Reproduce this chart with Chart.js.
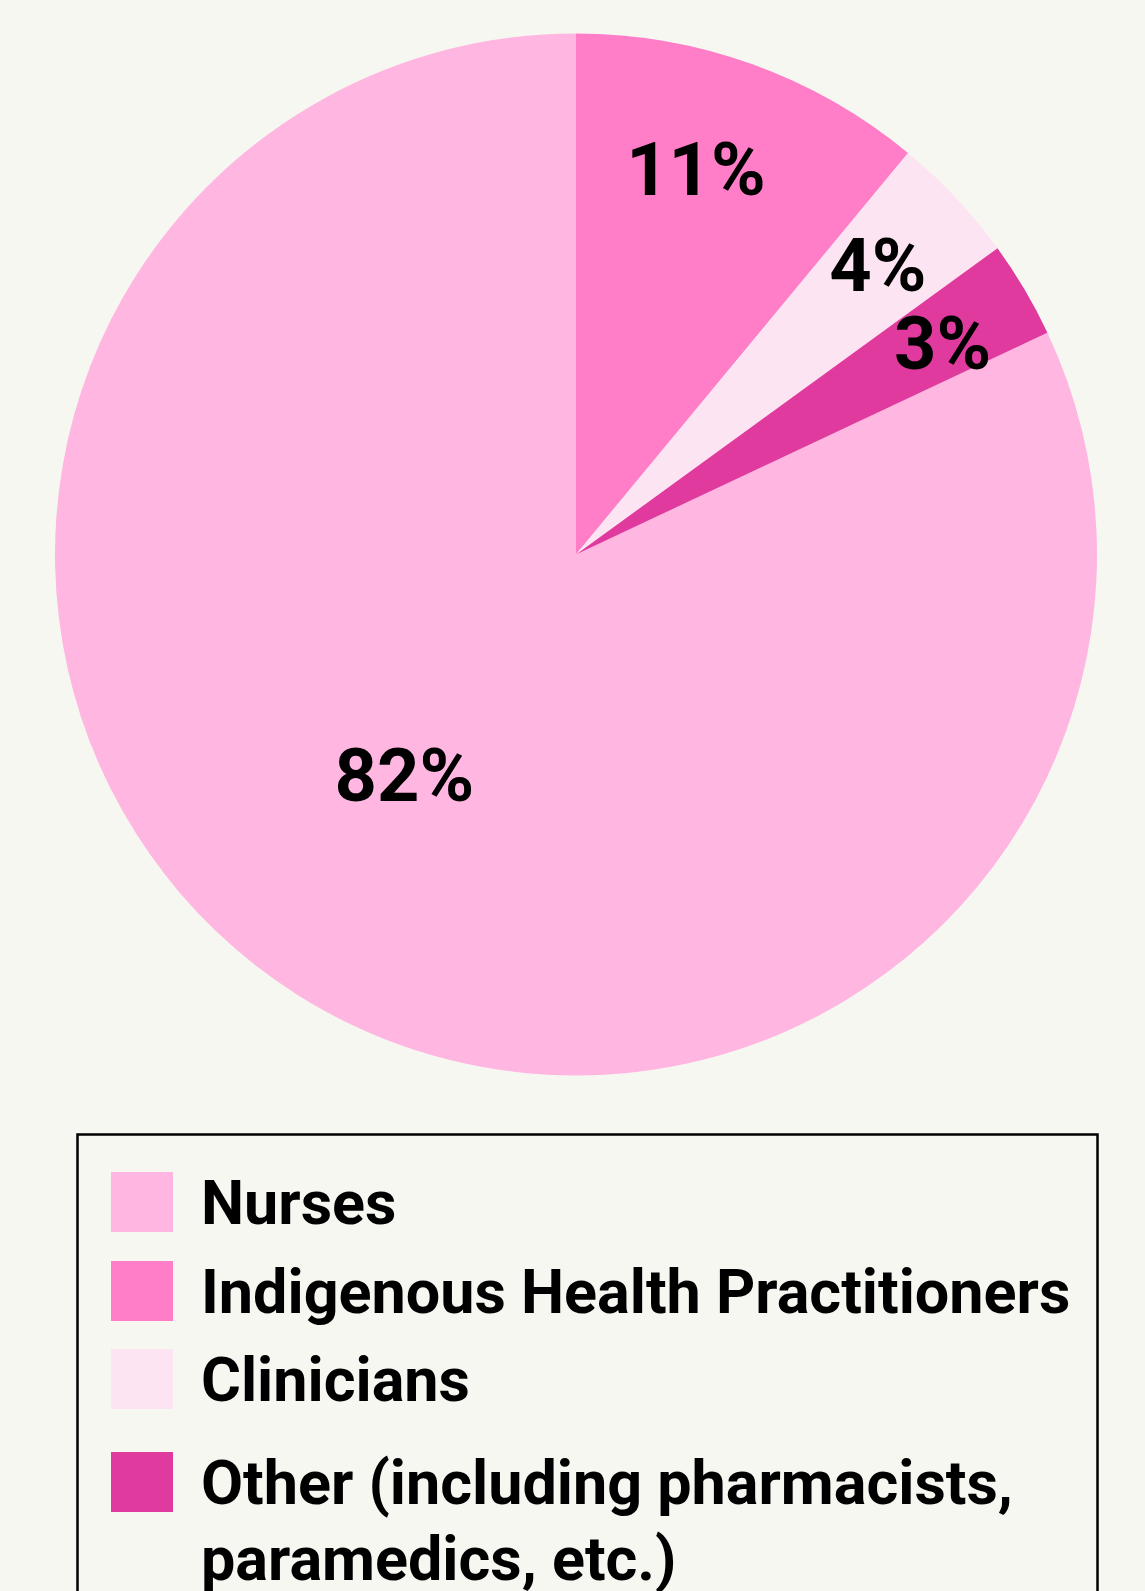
<!DOCTYPE html>
<html><head><meta charset="utf-8">
<script src="https://cdn.jsdelivr.net/npm/chart.js@4"></script>
<style>
html,body{margin:0;padding:0;background:#F7F7F2;overflow:hidden;}
#wrap{position:absolute;left:0;top:0;width:1145px;height:1591px;}
</style></head>
<body>
<div id="wrap"><canvas id="c" width="1145" height="1591"></canvas></div>
<script>
const categories = ["Nurses", "Indigenous Health Practitioners", "Clinicians", "Other (including pharmacists, paramedics, etc.)"];
const legendLines = [["Nurses"], ["Indigenous Health Practitioners"], ["Clinicians"], ["Other (including pharmacists,", "paramedics, etc.)"]];
const values = [82, 11, 4, 3];
const valueLabels = ["82%", "11%", "4%", "3%"];
const colors = ["#FFB6E1", "#FF7EC7", "#FDE4F2", "#E03A9F"];

// label placement styling (fraction of radius, angle shift in degrees)
const labelRadius = [0.54, 0.77, 0.80, 0.81];
const labelShift = [5.2, -2.4, -0.4, 0.9];

const FONT = "Roboto, 'Noto Sans', sans-serif";

const overlay = {
  id: 'overlay',
  afterDatasetsDraw(chart) {
    const ctx = chart.ctx;
    const meta = chart.getDatasetMeta(0);
    ctx.save();
    ctx.fillStyle = '#000';
    ctx.font = "700 74px " + FONT;
    ctx.textAlign = 'center';
    ctx.textBaseline = 'middle';
    meta.data.forEach((arc, i) => {
      const mid = (arc.startAngle + arc.endAngle) / 2 + labelShift[i] * Math.PI / 180;
      const r = arc.outerRadius * labelRadius[i];
      const x = arc.x + Math.cos(mid) * r;
      const y = arc.y + Math.sin(mid) * r + 5;
      ctx.fillText(valueLabels[i], x, y);
    });
    // legend box
    ctx.lineWidth = 2.5;
    ctx.strokeStyle = '#000';
    ctx.strokeRect(77.5, 1134.5, 1020, 600);
    const boxTops = [1172, 1261, 1349, 1452];
    ctx.textAlign = 'left';
    ctx.textBaseline = 'alphabetic';
    ctx.font = "700 62px " + FONT;
    legendLines.forEach((lines, i) => {
      ctx.fillStyle = colors[i];
      ctx.fillRect(111, boxTops[i], 62, 60);
      ctx.fillStyle = '#000';
      lines.forEach((t, j) => {
        ctx.save();
        ctx.translate(201, boxTops[i] + 52 + j * 76);
        ctx.scale(0.985, 1);
        ctx.fillText(t, 0, 0);
        ctx.restore();
      });
    });
    ctx.restore();
  }
};

new Chart(document.getElementById('c'), {
  type: 'pie',
  data: {
    labels: categories,
    datasets: [{
      data: values,
      backgroundColor: colors,
      borderWidth: 0,
      hoverOffset: 0,
      offset: 0
    }]
  },
  options: {
    responsive: false,
    animation: false,
    rotation: 64.8,
    layout: { padding: { left: 55, right: 48, top: 33.5, bottom: 515.5 } },
    plugins: { legend: { display: false }, tooltip: { enabled: false } },
    events: []
  },
  plugins: [overlay]
});
</script>
</body></html>
